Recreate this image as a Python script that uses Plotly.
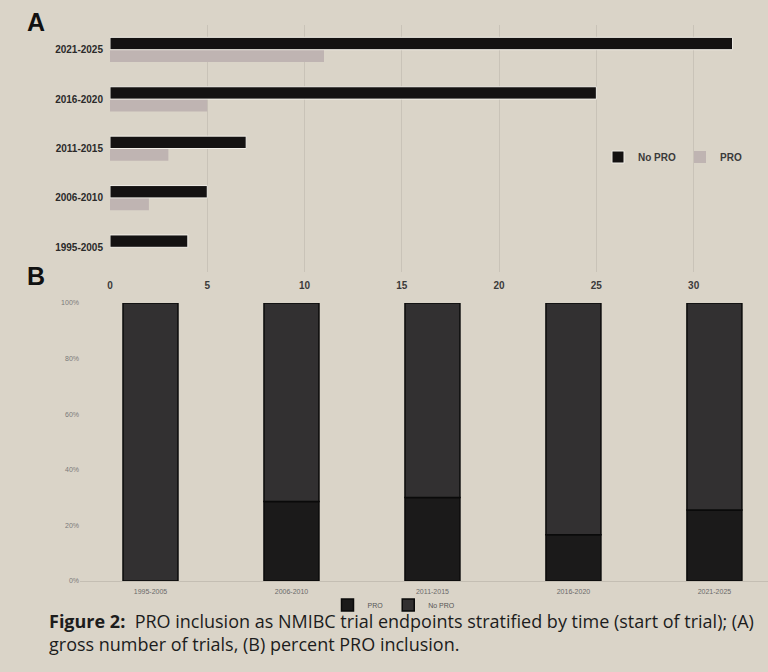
import plotly.graph_objects as go

# ---- data ----
periods = ["1995-2005", "2006-2010", "2011-2015", "2016-2020", "2021-2025"]
no_pro = [4, 5, 7, 25, 32]
pro = [0, 2, 3, 5, 11]
x_ticks_a = [0, 5, 10, 15, 20, 25, 30]
y_ticks_b = [0, 20, 40, 60, 80, 100]
y_ticklabels_b = ["0%", "20%", "40%", "60%", "80%", "100%"]

# percent shares for panel B (derived from the counts)
totals = [a + b for a, b in zip(pro, no_pro)]
pct_pro = [100 * p / t for p, t in zip(pro, totals)]
pct_no_pro = [100 * n / t for n, t in zip(no_pro, totals)]

W, H = 768, 672
BG = "#dad4c8"

def px_x(p):
    return p / W

def px_y(p):
    return 1 - p / H

fig = go.Figure()

# Panel A: horizontal grouped bars
fig.add_trace(go.Bar(
    y=periods, x=pro, orientation="h", name="PRO",
    marker=dict(color="#bfb4b2", line=dict(width=0)),
    xaxis="x", yaxis="y", legend="legend", legendrank=2,
))
fig.add_trace(go.Bar(
    y=periods, x=no_pro, orientation="h", name="No PRO",
    marker=dict(color="#141212", line=dict(color="#f2efe8", width=1)),
    xaxis="x", yaxis="y", legend="legend", legendrank=1,
))

# Panel B: 100% stacked vertical bars
fig.add_trace(go.Bar(
    x=periods, y=pct_pro, name="PRO", offsetgroup="b", width=0.39,
    marker=dict(color="#1b1a1a", line=dict(color="#0a0a0a", width=1.5)),
    xaxis="x2", yaxis="y2", legend="legend2", legendrank=1,
))
fig.add_trace(go.Bar(
    x=periods, y=pct_no_pro, base=pct_pro, name="No PRO", offsetgroup="b", width=0.39,
    marker=dict(color="#323031", line=dict(color="#0a0a0a", width=1.5)),
    xaxis="x2", yaxis="y2", legend="legend2", legendrank=2,
))

BOLD = dict(family="Liberation Sans, Arial", weight="bold")

fig.update_layout(
    width=W, height=H,
    margin=dict(l=0, r=0, t=0, b=0, autoexpand=False),
    paper_bgcolor=BG, plot_bgcolor=BG,
    barmode="group",
    bargap=0.5, bargroupgap=0.0,
    font=dict(family="Liberation Sans, Arial, sans-serif", color="#333"),
    xaxis=dict(
        domain=[px_x(110), px_x(752)], range=[0, 33],
        tickvals=x_ticks_a, showgrid=True, gridcolor="#c9c3b8", gridwidth=1,
        zeroline=False, showline=False, ticks="", ticklabelstandoff=6,
        tickfont=dict(size=10, color="#3a3a3a", **BOLD),
        anchor="y", automargin=False, fixedrange=True,
    ),
    yaxis=dict(
        domain=[px_y(272), px_y(25)], type="category",
        categoryorder="array", categoryarray=periods,
        showgrid=False, zeroline=False, showline=False, ticks="",
        ticklabelstandoff=6,
        tickfont=dict(size=10, color="#2a2a2a", **BOLD),
        anchor="x", automargin=False,
    ),
    xaxis2=dict(
        domain=[px_x(80), 1.0], range=[-0.5, 4.38], type="category",
        categoryorder="array", categoryarray=periods,
        showgrid=False, zeroline=False, showline=True, linecolor="#c4beb3", linewidth=1,
        ticks="", tickfont=dict(size=7, color="#6a6a6a"), ticklabelstandoff=4,
        anchor="y2", automargin=False,
    ),
    yaxis2=dict(
        domain=[px_y(581), px_y(303)], range=[0, 100],
        tickvals=y_ticks_b, ticktext=y_ticklabels_b,
        showgrid=False, zeroline=False, showline=False, ticks="",
        tickfont=dict(size=7, color="#7a7a7a"),
        anchor="x2", automargin=False,
    ),
    legend=dict(
        x=px_x(598), y=px_y(157), xanchor="left", yanchor="middle",
        orientation="h", bgcolor="rgba(0,0,0,0)",
        font=dict(size=10, color="#3a3a3a", **BOLD),
        itemwidth=30, entrywidth=37, tracegroupgap=0,
    ),
    legend2=dict(
        x=px_x(394), y=px_y(605), xanchor="center", yanchor="middle",
        orientation="h", bgcolor="rgba(0,0,0,0)",
        font=dict(size=7, color="#555"),
        itemwidth=30,
    ),
    showlegend=True,
)

annotations = [
    dict(text="<b>A</b>", x=px_x(25), y=px_y(22), xref="paper", yref="paper",
         xanchor="left", yanchor="middle",
         font=dict(size=25, color="#111", family="Liberation Sans, Arial"), showarrow=False),
    dict(text="<b>B</b>", x=px_x(25), y=px_y(276), xref="paper", yref="paper",
         xanchor="left", yanchor="middle",
         font=dict(size=25, color="#111", family="Liberation Sans, Arial"), showarrow=False),
    dict(text="<b>Figure 2:</b>  PRO inclusion as NMIBC trial endpoints stratified by time (start of trial); (A)<br>gross number of trials, (B) percent PRO inclusion.",
         x=px_x(47), y=px_y(632), xref="paper", yref="paper",
         xanchor="left", yanchor="middle", align="left",
         font=dict(size=18, color="#1c1c1c", family="Open Sans, sans-serif"), showarrow=False),
]
fig.update_layout(annotations=annotations)

fig.write_html("out.html")
